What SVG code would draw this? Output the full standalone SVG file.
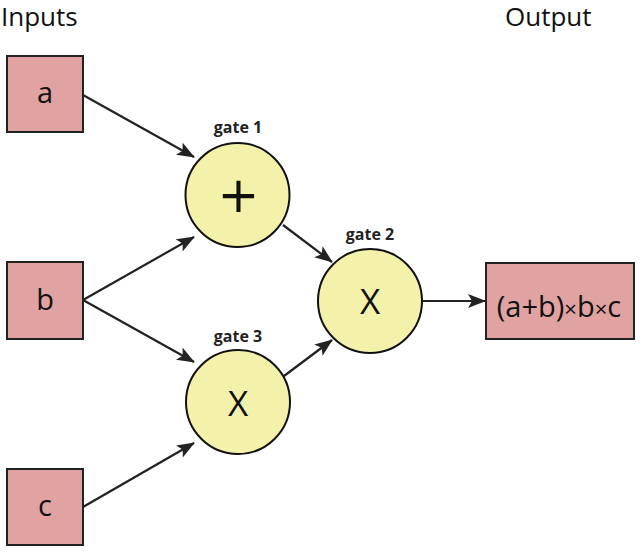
<svg xmlns="http://www.w3.org/2000/svg" width="640" height="552" viewBox="0 0 640 552">
<style>
.box{fill:#e0a3a1;stroke:#222;stroke-width:2}
.gate{fill:#f4f2aa;stroke:#111;stroke-width:2}
.lbl{font-family:"Open Sans","Noto Sans",sans-serif;font-size:29px;fill:#111;text-anchor:middle}
.hdr{font-family:"Open Sans","Noto Sans",sans-serif;font-size:26px;fill:#111}
.gl{font-family:"Open Sans","Noto Sans",sans-serif;font-size:16px;font-weight:bold;fill:#222;text-anchor:middle}
.op{font-family:"Open Sans","Noto Sans",sans-serif;font-size:35px;fill:#111;text-anchor:middle}
.plus{font-family:"DejaVu Sans",sans-serif;font-size:50px;fill:#111;text-anchor:middle}
.edge{stroke:#222;stroke-width:2.2;fill:none;marker-end:url(#arr)}
</style>
<defs>
<marker id="arr" viewBox="0 0 18 14" refX="17" refY="7" markerWidth="18" markerHeight="14" markerUnits="userSpaceOnUse" orient="auto">
<path d="M0,0 L18,7 L0,14 L4,7 Z" fill="#222"/>
</marker>
</defs>
<rect width="640" height="552" fill="#fff"/>
<text class="hdr" x="1" y="26">Inputs</text>
<text class="hdr" x="505" y="26">Output</text>
<g id="connectors">
<line class="edge" x1="83" y1="95" x2="194" y2="157"/>
<line class="edge" x1="83" y1="300" x2="194" y2="237"/>
<line class="edge" x1="83" y1="300" x2="194" y2="362"/>
<line class="edge" x1="83" y1="507" x2="194" y2="443"/>
<line class="edge" x1="283" y1="225" x2="332" y2="262"/>
<line class="edge" x1="284" y1="376" x2="332" y2="340"/>
<line class="edge" x1="423" y1="301" x2="485" y2="301"/>
</g>
<g id="a"><rect class="box" x="7" y="56" width="76" height="76"/><text class="lbl" x="45" y="103">a</text></g>
<g id="b"><rect class="box" x="7" y="262" width="76" height="77"/><text class="lbl" x="45" y="310">b</text></g>
<g id="c"><rect class="box" x="7" y="469" width="76" height="76"/><text class="lbl" x="45" y="516">c</text></g>
<g id="gate1"><circle class="gate" cx="237.5" cy="195" r="52"/><text class="gl" x="238" y="133">gate 1</text><text class="plus" x="238.5" y="212">+</text></g>
<g id="gate2"><circle class="gate" cx="370" cy="301" r="52"/><text class="gl" x="370" y="240">gate 2</text><text class="op" x="370" y="314">X</text></g>
<g id="gate3"><circle class="gate" cx="238" cy="402" r="52"/><text class="gl" x="238" y="342">gate 3</text><text class="op" x="238" y="416">X</text></g>
<g id="output"><rect class="box" x="486" y="263" width="148" height="76"/><text class="lbl" x="559" y="317" font-size="30">(a+b)<tspan font-size="22">×</tspan>b<tspan font-size="22">×</tspan>c</text></g>
</svg>
